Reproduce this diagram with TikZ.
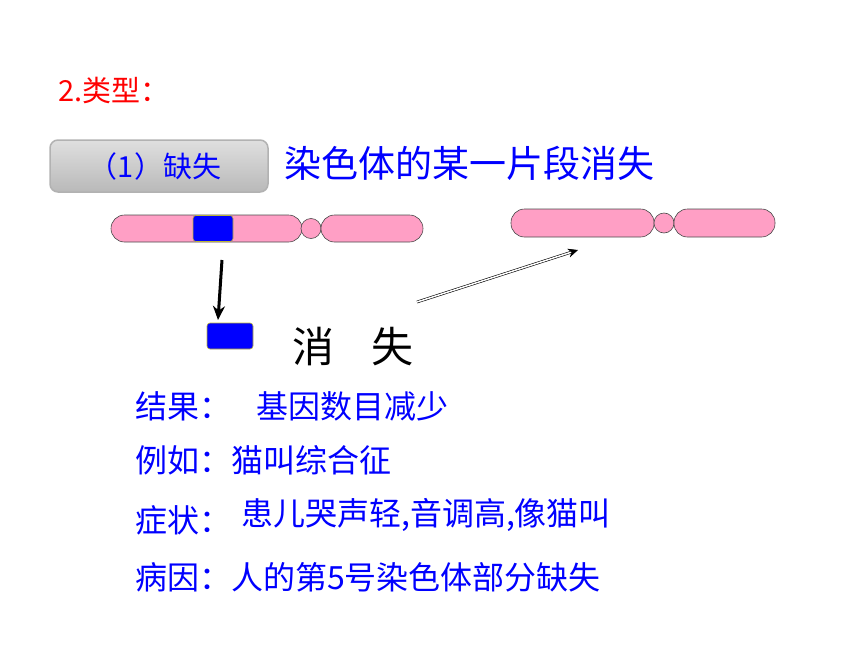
\documentclass[tikz,border=0pt]{standalone}
\usepackage{fontspec}
\usetikzlibrary{arrows.meta}
\newfontfamily\cjk{Noto Sans CJK SC}
\definecolor{pinkc}{HTML}{FF9FC5}
\definecolor{blu}{HTML}{0000FF}
\definecolor{redc}{HTML}{FF0000}
\tikzset{
 arm/.style={draw=black!70,fill=pinkc,rounded corners=13.5pt,line width=0.6pt},
 cen/.style={draw=black!70,fill=pinkc,line width=0.6pt},
 band/.style={draw=yellow!70!black,fill=blu,rounded corners=3pt,line width=0.6pt},
 bt/.style={text=blu,anchor=west,inner sep=0pt,font=\cjk\fontsize{32}{32}\selectfont},
}
\begin{document}
\begin{tikzpicture}[x=1pt,y=-1pt]
\useasboundingbox (0,0) rectangle (860,645);
\node[anchor=west,inner sep=0,text=redc,font=\cjk\fontsize{29}{29}\selectfont] (t) at (58,90) {2.类型：};
\shade[rounded corners=8pt,top color=gray!25,bottom color=gray!55,draw=gray!60,line width=1.5pt] (50,140) rectangle (268,192);
\node[text=blu,font=\cjk\fontsize{29}{29}\selectfont,inner sep=0] (lab) at (155,166) {（1）缺失};
\node[anchor=west,inner sep=0,text=blu,font=\cjk\fontsize{37}{37}\selectfont] (desc) at (284,163) {染色体的某一片段消失};
% chromosome 1
\draw[arm] (111,215) rectangle (302,242);
\draw[cen] (311,228.5) circle[radius=10];
\draw[arm] (321,215) rectangle (423,242);
\node[band,minimum width=40pt,minimum height=26pt,inner sep=0] (b1) at (213,228.5) {};
% chromosome 2
\draw[arm] (511,209) rectangle (654,237);
\draw[cen] (664,223) circle[radius=10];
\draw[arm] (674,209) rectangle (775,237);
\coordinate (c2) at (578,250);
% deleted piece
\coordinate (a1) at (222,260);
\node[band,minimum width=46pt,minimum height=26pt,inner sep=0] (b2) at (230,336) {};
\draw[line width=3pt,-{Stealth[length=14pt,width=12pt]}] (a1) -- (218,320);
\node[anchor=west,inner sep=0,font=\cjk\fontsize{42}{42}\selectfont] (xs) at (292,347) {消\hspace{0.9em}失};
\coordinate (d1) at (417,302);
\draw[double,double distance=1.5pt,line width=0.6pt,-{Stealth[length=10pt,width=9pt]}] (d1) -- (c2);
% text lines
\node[bt] (r1) at (135,406) {结果：};
\node[bt] (r1b) at (256,406) {基因数目减少};
\node[bt] (r2) at (135,460) {例如：猫叫综合征};
\node[bt] (r3) at (135,520) {症状：};
\node[bt] (r3b) at (241,515) {患儿哭声轻,音调高,像猫叫};
\node[bt] (r4) at (135,577) {病因：人的第5号染色体部分缺失};
\end{tikzpicture}
\end{document}
